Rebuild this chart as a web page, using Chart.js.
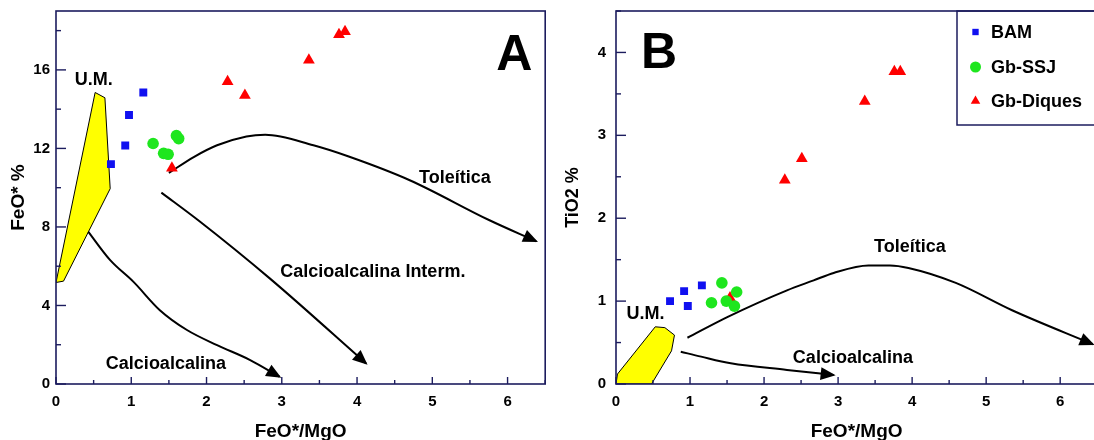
<!DOCTYPE html>
<html>
<head>
<meta charset="utf-8">
<script src="https://cdn.jsdelivr.net/npm/chart.js@4.4.0/dist/chart.umd.min.js"></script>
<style>
  html, body { margin: 0; padding: 0; background: #fff; overflow: hidden; }
  #wrap { position: relative; width: 1094px; height: 440px; overflow: hidden; }
  #chartA { position: absolute; left: 0; top: 0; }
  #chartB { position: absolute; left: 556px; top: 0; }
</style>
</head>
<body>
<div id="wrap">
  <canvas id="chartA" width="552" height="440"></canvas>
  <canvas id="chartB" width="548" height="440"></canvas>
</div>
<script>
const FONT = "'Liberation Sans', Arial, Helvetica, sans-serif";
const NAVY = '#1c1c5e';

// samples, FeO*/MgO ratio on x
const bamRatio = [0.73, 0.92, 0.97, 1.16];
const bamFeO   = [11.2, 12.15, 13.7, 14.85];
const bamTiO2  = [1.00, 1.12, 0.94, 1.19];

const ssjRatio = [1.29, 1.43, 1.49, 1.60, 1.63];
const ssjFeO   = [12.25, 11.75, 11.7, 12.65, 12.5];
const ssjTiO2  = [0.98, 1.22, 1.00, 0.94, 1.11];

const diqRatio = [1.54, 2.28, 2.51, 3.36, 3.76, 3.84];
const diqFeO   = [11.0, 15.4, 14.7, 16.5, 17.8, 17.95];
const diqTiO2  = [1.04, 2.46, 2.72, 3.41, 3.77, 3.77];

// trend curves, diagram A (FeO*)
const tolAx = [1.50, 1.83, 2.14, 2.53, 2.78, 3.42, 3.88, 4.70, 5.76, 6.38];
const tolAy = [10.75, 11.56, 12.16, 12.61, 12.7, 12.16, 11.6, 10.38, 8.34, 7.27];
const intAx = [1.40, 1.89, 2.84, 4.12];
const intAy = [9.75, 8.34, 5.38, 1.05];
const calAx = [0.43, 0.72, 1.03, 1.38, 1.74, 2.14, 2.58, 2.97];
const calAy = [7.75, 6.31, 5.2, 3.76, 2.75, 1.98, 1.22, 0.37];
const umAx  = [0, 0.52, 0.65, 0.72, 0.10, 0];
const umAy  = [5.17, 14.85, 14.58, 9.95, 5.24, 5.17];

// trend curves, diagram B (TiO2)
const tolBx = [0.965, 1.51, 2.31, 2.67, 2.94, 3.41, 3.70, 3.95, 4.59, 5.35, 6.44];
const tolBy = [0.558, 0.81, 1.13, 1.25, 1.34, 1.43, 1.43, 1.40, 1.22, 0.89, 0.48];
const calBx = [0.875, 1.15, 1.55, 2.31, 2.94];
const calBy = [0.39, 0.33, 0.25, 0.17, 0.108];
const umBx  = [0, 0.02, 0.53, 0.66, 0.79, 0.75, 0.48, 0];
const umBy  = [0, 0.12, 0.69, 0.68, 0.59, 0.40, 0, 0];

const legendLabels = ['BAM', 'Gb-SSJ', 'Gb-Diques'];

function pts(xs, ys) {
  return xs.map((x, i) => ({ x: x, y: ys[i] }));
}

function sampleSets(feo) {
  return [
    { label: legendLabels[0], data: pts(bamRatio, feo[0]), pointStyle: 'rect', pointRadius: 5.6,
      backgroundColor: '#1010f0', borderWidth: 0, order: 1 },
    { label: legendLabels[1], data: pts(ssjRatio, feo[1]), pointStyle: 'circle', pointRadius: 5.8,
      backgroundColor: '#1ee61e', borderWidth: 0, order: 0 },
    { label: legendLabels[2], data: pts(diqRatio, feo[2]), pointStyle: 'triangle', pointRadius: 6.8,
      backgroundColor: '#ff0000', borderWidth: 0, order: 2 }
  ];
}

function curve(xs, ys, arrow) {
  return { data: pts(xs, ys), showLine: true, pointRadius: 0, borderColor: '#000',
           borderWidth: 2, cubicInterpolationMode: 'monotone', fill: false, arrow: arrow, order: 4 };
}

function shape(xs, ys) {
  return { data: pts(xs, ys), showLine: true, pointRadius: 0, borderColor: '#000',
           borderWidth: 1, tension: 0, fill: 'shape', backgroundColor: '#ffff00', order: 6 };
}

// frame, inward ticks, arrow heads, text and the legend box
function makeDecor(cfg) {
  return {
    id: 'decor',
    afterDatasetsDraw(chart) {
      const ctx = chart.ctx;
      chart.data.datasets.forEach((ds, i) => {
        if (!ds.arrow) return;
        const p = chart.getDatasetMeta(i).data;
        const a = p[p.length - 2], b = p[p.length - 1];
        const ang = Math.atan2(b.y - a.y, b.x - a.x);
        ctx.save();
        ctx.translate(b.x, b.y);
        ctx.rotate(ang);
        ctx.beginPath();
        ctx.moveTo(2, 0);
        ctx.lineTo(-13, -6.5);
        ctx.lineTo(-13, 6.5);
        ctx.closePath();
        ctx.fillStyle = '#000';
        ctx.fill();
        ctx.restore();
      });
    },
    afterDraw(chart) {
      const ctx = chart.ctx, ca = chart.chartArea;
      const sx = chart.scales.x, sy = chart.scales.y;
      ctx.save();
      ctx.strokeStyle = NAVY;
      ctx.lineWidth = 1.6;
      ctx.strokeRect(ca.left, ca.top, ca.right - ca.left, ca.bottom - ca.top);

      ctx.lineWidth = 1.4;
      sx.ticks.forEach(t => {
        const px = sx.getPixelForValue(t.value);
        const len = t.label !== '' ? 7 : 4;
        ctx.beginPath(); ctx.moveTo(px, ca.bottom); ctx.lineTo(px, ca.bottom - len); ctx.stroke();
      });
      sy.ticks.forEach(t => {
        const py = sy.getPixelForValue(t.value);
        const len = t.label !== '' ? 10 : 5;
        ctx.beginPath(); ctx.moveTo(ca.left, py); ctx.lineTo(ca.left + len, py); ctx.stroke();
      });

      ctx.fillStyle = '#000';
      ctx.textAlign = 'center';
      ctx.textBaseline = 'middle';
      cfg.labels.forEach(l => {
        ctx.font = 'bold ' + l.size + 'px ' + FONT;
        ctx.fillText(l.text, sx.getPixelForValue(l.x), sy.getPixelForValue(l.y));
      });

      if (cfg.legend) {
        const lx = ca.left + 341, top = ca.top, bot = 125;
        ctx.strokeStyle = NAVY;
        ctx.lineWidth = 1.5;
        ctx.strokeRect(lx, top, ca.right + 20 - lx, bot - top);
        const rows = [21, 56, 90];
        ctx.textAlign = 'left';
        ctx.font = 'bold 18px ' + FONT;
        chart.data.datasets.slice(0, 3).forEach((ds, i) => {
          const y = top + rows[i];
          ctx.fillStyle = ds.backgroundColor;
          ctx.beginPath();
          Chart.helpers.drawPoint(ctx, {
            pointStyle: ds.pointStyle, radius: i === 0 ? 4.5 : 5.5, rotation: 0, borderWidth: 0
          }, lx + 18.5, y);
          ctx.fillStyle = '#000';
          ctx.fillText(ds.label, lx + 34, y + 1);
        });
      }
      ctx.restore();
    }
  };
}

function axisOpts(max, step, major, title, titleSize, titlePad, tickPad, isX, fitSize) {
  return {
    type: 'linear',
    min: 0,
    max: max,
    grid: { display: false, drawTicks: false },
    border: { display: false },
    ticks: {
      stepSize: step,
      includeBounds: false,
      autoSkip: false,
      maxRotation: 0,
      padding: tickPad,
      color: '#000',
      font: { family: FONT, size: 15, weight: 'bold' },
      callback: v => (Math.abs(v / major - Math.round(v / major)) < 1e-6 ? String(Math.round(v)) : '')
    },
    title: {
      display: true,
      text: title,
      color: '#000',
      font: { family: FONT, size: titleSize, weight: 'bold', lineHeight: 1 },
      padding: titlePad
    },
    afterFit: s => {
      if (isX) s.height = fitSize; else s.width = fitSize;
      s.paddingTop = 0; s.paddingBottom = 0; s.paddingLeft = 0; s.paddingRight = 0;
    }
  };
}

function baseOptions(yAxis, padRight) {
  return {
    responsive: false,
    animation: false,
    devicePixelRatio: 1,
    events: [],
    layout: { padding: { top: 11, right: padRight, bottom: 0, left: 0 } },
    plugins: { legend: { display: false }, tooltip: { enabled: false } },
    scales: {
      x: axisOpts(6.5, 0.5, 1, 'FeO*/MgO', 19, { top: 0, bottom: -1 }, 9, true, 56),
      y: yAxis
    }
  };
}

new Chart(document.getElementById('chartA'), {
  type: 'scatter',
  data: {
    datasets: sampleSets([bamFeO, ssjFeO, diqFeO]).concat([
      curve(tolAx, tolAy, true),
      curve(intAx, intAy, true),
      curve(calAx, calAy, true),
      shape(umAx, umAy)
    ])
  },
  options: baseOptions(axisOpts(19, 2, 4, 'FeO* %', 19, { top: 9, bottom: 0 }, 6, false, 56), 6),
  plugins: [makeDecor({
    legend: false,
    labels: [
      { text: 'U.M.', x: 0.50, y: 15.5, size: 18 },
      { text: 'Toleítica', x: 5.30, y: 10.48, size: 18 },
      { text: 'Calcioalcalina Interm.', x: 4.21, y: 5.70, size: 18 },
      { text: 'Calcioalcalina', x: 1.46, y: 1.02, size: 18 },
      { text: 'A', x: 6.09, y: 16.7, size: 50 }
    ]
  })]
});

new Chart(document.getElementById('chartB'), {
  type: 'scatter',
  data: {
    datasets: sampleSets([bamTiO2, ssjTiO2, diqTiO2]).concat([
      curve(tolBx, tolBy, true),
      curve(calBx, calBy, true),
      shape(umBx, umBy)
    ])
  },
  options: baseOptions(axisOpts(4.5, 0.5, 1, 'TiO2 %', 18, { top: 8, bottom: 0 }, 10, false, 60), 3),
  plugins: [makeDecor({
    legend: true,
    labels: [
      { text: 'U.M.', x: 0.40, y: 0.84, size: 18 },
      { text: 'Toleítica', x: 3.97, y: 1.654, size: 18 },
      { text: 'Calcioalcalina', x: 3.20, y: 0.31, size: 18 },
      { text: 'B', x: 0.58, y: 3.98, size: 50 }
    ]
  })]
});
</script>
</body>
</html>
